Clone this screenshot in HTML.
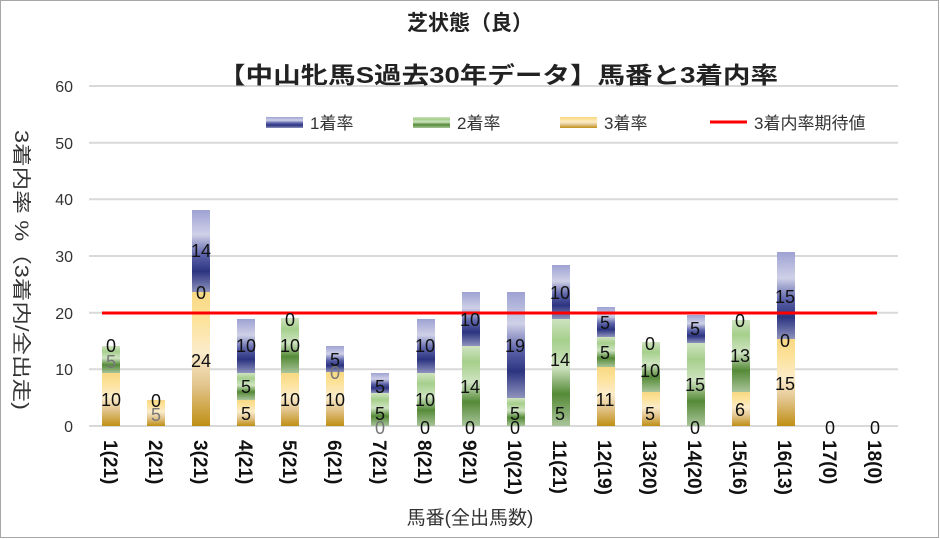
<!DOCTYPE html><html><head><meta charset="utf-8"><style>body{margin:0;background:#fff}svg{display:block}text{font-family:"Liberation Sans","Noto Sans CJK JP",sans-serif}</style></head><body>
<svg width="940" height="539" viewBox="0 0 940 539" xmlns="http://www.w3.org/2000/svg">
<defs>
<linearGradient id="g" x1="0" y1="1" x2="0" y2="0"><stop offset="0" stop-color="#bf8f14"/><stop offset="0.3" stop-color="#e2c48c"/><stop offset="0.55" stop-color="#fbeccb"/><stop offset="0.8" stop-color="#fde29a"/><stop offset="1" stop-color="#f7d884"/></linearGradient>
<linearGradient id="gr" x1="0" y1="1" x2="0" y2="0"><stop offset="0" stop-color="#a9c49a"/><stop offset="0.3" stop-color="#558a37"/><stop offset="0.55" stop-color="#cfe4c2"/><stop offset="0.8" stop-color="#a6cf8c"/><stop offset="1" stop-color="#cfe3c0"/></linearGradient>
<linearGradient id="b" x1="0" y1="1" x2="0" y2="0"><stop offset="0" stop-color="#8f93bd"/><stop offset="0.25" stop-color="#2c3480"/><stop offset="0.45" stop-color="#5b62a8"/><stop offset="0.7" stop-color="#cfd1e8"/><stop offset="1" stop-color="#9ea2d2"/></linearGradient>
</defs>
<rect x="0.5" y="0.5" width="938" height="537" fill="#fff" stroke="#a6a6a6"/>
<g stroke="#d9d9d9" stroke-width="2">
<line x1="89" x2="898" y1="426" y2="426"/><line x1="89" x2="898" y1="369.3" y2="369.3"/><line x1="89" x2="898" y1="312.7" y2="312.7"/><line x1="89" x2="898" y1="256" y2="256"/><line x1="89" x2="898" y1="199.3" y2="199.3"/><line x1="89" x2="898" y1="142.7" y2="142.7"/><line x1="89" x2="898" y1="86" y2="86"/>
</g>
<g font-size="16" fill="#333" text-anchor="end">
<text x="73" y="432">0</text><text x="73" y="375">10</text><text x="73" y="319">20</text><text x="73" y="262">30</text><text x="73" y="205">40</text><text x="73" y="149">50</text><text x="73" y="92">60</text>
</g>
<text transform="translate(15,130) rotate(90)" font-size="19" fill="#333" textLength="280" lengthAdjust="spacingAndGlyphs">3着内率 %（3着内/全出走)</text>
<text x="470" y="30" font-size="21" font-weight="bold" text-anchor="middle" fill="#222">芝状態（良）</text>
<text x="218" y="83" font-size="23" font-weight="bold" fill="#222" textLength="560" lengthAdjust="spacingAndGlyphs">【中山牝馬S過去30年データ】馬番と3着内率</text>
<g font-size="17" fill="#333">
<rect x="266" y="117" width="37" height="11" fill="url(#b)"/><text x="310" y="129">1着率</text>
<rect x="413" y="117" width="37" height="11" fill="url(#gr)"/><text x="457" y="129">2着率</text>
<rect x="560" y="117" width="37" height="11" fill="url(#g)"/><text x="604" y="129">3着率</text>
<line x1="710" x2="747" y1="122" y2="122" stroke="#f00" stroke-width="3"/><text x="754" y="129">3着内率期待値</text>
</g>
<g>
<rect x="102" y="373" width="18" height="53" fill="url(#g)"/><rect x="102" y="346" width="18" height="27" fill="url(#gr)"/>
<rect x="147" y="400" width="18" height="26" fill="url(#g)"/>
<rect x="192" y="292" width="18" height="134" fill="url(#g)"/><rect x="192" y="210" width="18" height="82" fill="url(#b)"/>
<rect x="237" y="400" width="18" height="26" fill="url(#g)"/><rect x="237" y="373" width="18" height="27" fill="url(#gr)"/><rect x="237" y="319" width="18" height="54" fill="url(#b)"/>
<rect x="281" y="373" width="18" height="53" fill="url(#g)"/><rect x="281" y="318" width="18" height="55" fill="url(#gr)"/>
<rect x="326" y="372" width="18" height="54" fill="url(#g)"/><rect x="326" y="346" width="18" height="26" fill="url(#b)"/>
<rect x="371" y="393" width="18" height="33" fill="url(#gr)"/><rect x="371" y="373" width="18" height="20" fill="url(#b)"/>
<rect x="417" y="373" width="18" height="53" fill="url(#gr)"/><rect x="417" y="319" width="18" height="54" fill="url(#b)"/>
<rect x="462" y="346" width="18" height="80" fill="url(#gr)"/><rect x="462" y="292" width="18" height="54" fill="url(#b)"/>
<rect x="507" y="398" width="18" height="28" fill="url(#gr)"/><rect x="507" y="292" width="18" height="106" fill="url(#b)"/>
<rect x="552" y="319" width="18" height="107" fill="url(#gr)"/><rect x="552" y="265" width="18" height="54" fill="url(#b)"/>
<rect x="597" y="367" width="18" height="59" fill="url(#g)"/><rect x="597" y="337" width="18" height="30" fill="url(#gr)"/><rect x="597" y="307" width="18" height="30" fill="url(#b)"/>
<rect x="642" y="392" width="18" height="34" fill="url(#g)"/><rect x="642" y="342" width="18" height="50" fill="url(#gr)"/>
<rect x="687" y="343" width="18" height="83" fill="url(#gr)"/><rect x="687" y="315" width="18" height="28" fill="url(#b)"/>
<rect x="732" y="392" width="18" height="34" fill="url(#g)"/><rect x="732" y="320" width="18" height="72" fill="url(#gr)"/>
<rect x="777" y="339" width="18" height="87" fill="url(#g)"/><rect x="777" y="252" width="18" height="87" fill="url(#b)"/>
</g>
<line x1="102" x2="877" y1="313" y2="313" stroke="#f00" stroke-width="3"/>
<g font-size="18" fill="#111" text-anchor="middle">
<text x="111" y="406">10</text><text x="111" y="368" fill="#777">5</text><text x="111" y="352">0</text>
<text x="156" y="421" fill="#777">5</text><text x="156" y="407">0</text>
<text x="201" y="367">24</text><text x="201" y="299">0</text><text x="201" y="257">14</text>
<text x="246" y="420">5</text><text x="246" y="393">5</text><text x="246" y="352">10</text>
<text x="290" y="406">10</text><text x="290" y="352">10</text><text x="290" y="326">0</text>
<text x="335" y="406">10</text><text x="335" y="379" fill="#777">0</text><text x="335" y="366">5</text>
<text x="380" y="434" fill="#777">0</text><text x="380" y="420">5</text><text x="380" y="393">5</text>
<text x="425" y="434">0</text><text x="425" y="406">10</text><text x="425" y="352">10</text>
<text x="470" y="434">0</text><text x="470" y="393">14</text><text x="470" y="326">10</text>
<text x="515" y="434">0</text><text x="515" y="420">5</text><text x="515" y="352">19</text>
<text x="560" y="420">5</text><text x="560" y="366">14</text><text x="560" y="299">10</text>
<text x="605" y="406">11</text><text x="605" y="359">5</text><text x="605" y="329">5</text>
<text x="650" y="420">5</text><text x="650" y="377">10</text><text x="650" y="350">0</text>
<text x="695" y="434">0</text><text x="695" y="391">15</text><text x="695" y="335">5</text>
<text x="740" y="416">6</text><text x="740" y="362">13</text><text x="740" y="327">0</text>
<text x="785" y="390">15</text><text x="785" y="347">0</text><text x="785" y="303">15</text>
<text x="830" y="434">0</text><text x="875" y="434">0</text>
</g>
<g font-size="19" font-weight="bold" fill="#111">
<text transform="translate(104,440) rotate(90)">1(21)</text>
<text transform="translate(149,440) rotate(90)">2(21)</text>
<text transform="translate(194,440) rotate(90)">3(21)</text>
<text transform="translate(239,440) rotate(90)">4(21)</text>
<text transform="translate(283,440) rotate(90)">5(21)</text>
<text transform="translate(328,440) rotate(90)">6(21)</text>
<text transform="translate(373,440) rotate(90)">7(21)</text>
<text transform="translate(418,440) rotate(90)">8(21)</text>
<text transform="translate(463,440) rotate(90)">9(21)</text>
<text transform="translate(508,440) rotate(90)">10(21)</text>
<text transform="translate(553,440) rotate(90)">11(21)</text>
<text transform="translate(598,440) rotate(90)">12(19)</text>
<text transform="translate(643,440) rotate(90)">13(20)</text>
<text transform="translate(688,440) rotate(90)">14(20)</text>
<text transform="translate(733,440) rotate(90)">15(16)</text>
<text transform="translate(778,440) rotate(90)">16(13)</text>
<text transform="translate(823,440) rotate(90)">17(0)</text>
<text transform="translate(868,440) rotate(90)">18(0)</text>
</g>
<text x="470" y="524" font-size="19" text-anchor="middle" fill="#333">馬番(全出馬数)</text>
</svg>
</body></html>
